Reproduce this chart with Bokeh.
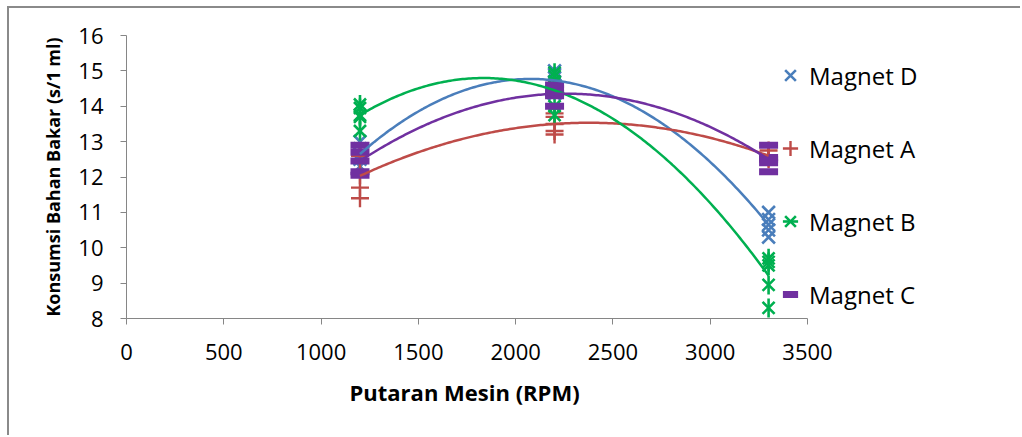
import numpy as np
from bokeh.plotting import figure
from bokeh.models import Legend, LegendItem, FixedTicker, Range1d, Title
from bokeh.embed import file_html
from bokeh.resources import INLINE

# ---- data ----
rpm_levels = [1200, 2200, 3300]
x_ticks = [0, 500, 1000, 1500, 2000, 2500, 3000, 3500]
y_ticks = [8, 9, 10, 11, 12, 13, 14, 15, 16]

magnet_d = [[13.0, 12.8, 12.65, 12.5, 12.3],
            [15.0, 14.9, 14.8, 14.6, 14.35],
            [11.0, 10.8, 10.65, 10.5, 10.3]]
magnet_a = [[12.6, 12.4, 12.05, 11.7, 11.4],
            [13.8, 13.7, 13.5, 13.3, 13.2],
            [12.75, 12.6, 12.6, 12.55, 12.5]]
magnet_b = [[14.05, 13.95, 13.75, 13.7, 13.3],
            [14.95, 14.85, 14.7, 14.0, 13.75],
            [9.7, 9.6, 9.5, 8.95, 8.3]]
magnet_c = [[12.9, 12.7, 12.45, 12.15, 12.05],
            [14.6, 14.5, 14.35, 14.3, 14.0],
            [12.9, 12.55, 12.5, 12.4, 12.15]]

names = ["Magnet D", "Magnet A", "Magnet B", "Magnet C"]
colors = ["#4A7EBB", "#BE4B48", "#00B050", "#7030A0"]
x_title = "Putaran Mesin (RPM)"
y_title = "Konsumsi Bahan Bakar (s/1 ml)"

FONT = "Open Sans"

# frame extends to the right so the legend (drawn inside it) is not clipped;
# the axis itself is bounded to 0..3500
X_MAX = 3500
axis_px = 681
frame_px = 889
x_end = X_MAX * frame_px / axis_px

p = figure(width=1013, height=429, output_backend="svg", toolbar_location=None,
           x_range=Range1d(0, x_end), y_range=Range1d(8, 16),
           min_border_left=117, min_border_right=7,
           min_border_top=27, min_border_bottom=119)
p.styles = {"border-left": "2px solid #8a8a8a", "border-top": "2px solid #8a8a8a",
            "margin-left": "7px", "margin-top": "6px"}
p.outline_line_color = None
p.xgrid.visible = False
p.ygrid.visible = False
p.background_fill_color = "white"
p.border_fill_color = "white"

for ax in (p.xaxis[0], p.yaxis[0]):
    ax.axis_line_color = "#868686"
    ax.axis_line_width = 1
    ax.major_tick_line_color = "#868686"
    ax.major_tick_in = 0
    ax.major_tick_out = 6
    ax.minor_tick_line_color = None
    ax.major_label_text_font = FONT
    ax.major_label_text_font_size = "22px"
    ax.major_label_text_color = "black"
    ax.axis_label_text_font = FONT
    ax.axis_label_text_font_style = "bold"
    ax.axis_label_text_color = "black"

p.xaxis[0].ticker = FixedTicker(ticks=x_ticks)
p.xaxis[0].bounds = (0, X_MAX)
p.yaxis[0].ticker = FixedTicker(ticks=y_ticks)
p.yaxis[0].axis_label = y_title
p.yaxis[0].axis_label_text_font_size = "18px"
p.xaxis[0].major_label_standoff = 19
p.yaxis[0].major_label_standoff = 17
p.yaxis[0].axis_label_standoff = 10

# x-axis title centred under the 0..3500 axis (not the widened frame)
xt = Title(text=x_title, align="left", offset=223, standoff=25,
           text_font=FONT, text_font_style="bold", text_font_size="22px",
           text_color="black")
p.add_layout(xt, "below")


def flat(series):
    xs, ys = [], []
    for r, vals in zip(rpm_levels, series):
        xs += [r] * len(vals)
        ys += vals
    return xs, ys


series = [magnet_d, magnet_a, magnet_b, magnet_c]
legend_renderers = []
for name, col, s in zip(names, colors, series):
    xs, ys = flat(s)
    rs = []
    if name == "Magnet D":
        rs.append(p.scatter(xs, ys, marker="x", size=18, line_color=col, line_width=2.6))
    elif name == "Magnet A":
        rs.append(p.scatter(xs, ys, marker="cross", size=18, line_color=col, line_width=2.4))
    elif name == "Magnet B":
        rs.append(p.scatter(xs, ys, marker="x", size=17, line_color=col, line_width=2.6))
        rs.append(p.scatter(xs, ys, marker="dash", angle=np.pi / 2, size=19,
                            line_color=col, line_width=2.6))
    else:
        rs.append(p.scatter(xs, ys, marker="dash", size=19, line_color=col, line_width=7))
    legend_renderers.append(rs)

# polynomial (order 2) trendlines, as in the spreadsheet chart
for col, s in zip(colors, series):
    xs, ys = flat(s)
    coef = np.polyfit(xs, ys, 2)
    xx = np.linspace(min(xs), max(xs), 200)
    p.line(xx, np.polyval(coef, xx), line_color=col, line_width=2.5)

legend = Legend(items=[LegendItem(label=n, renderers=r) for n, r in zip(names, legend_renderers)],
                location=(645, 4), glyph_width=38, glyph_height=40, spacing=33,
                padding=0, margin=0, label_standoff=0,
                label_text_font=FONT, label_text_font_size="24px",
                label_text_color="black",
                border_line_alpha=0, background_fill_alpha=0)
p.add_layout(legend, "center")

open("out.html", "w").write(file_html(p, INLINE))
